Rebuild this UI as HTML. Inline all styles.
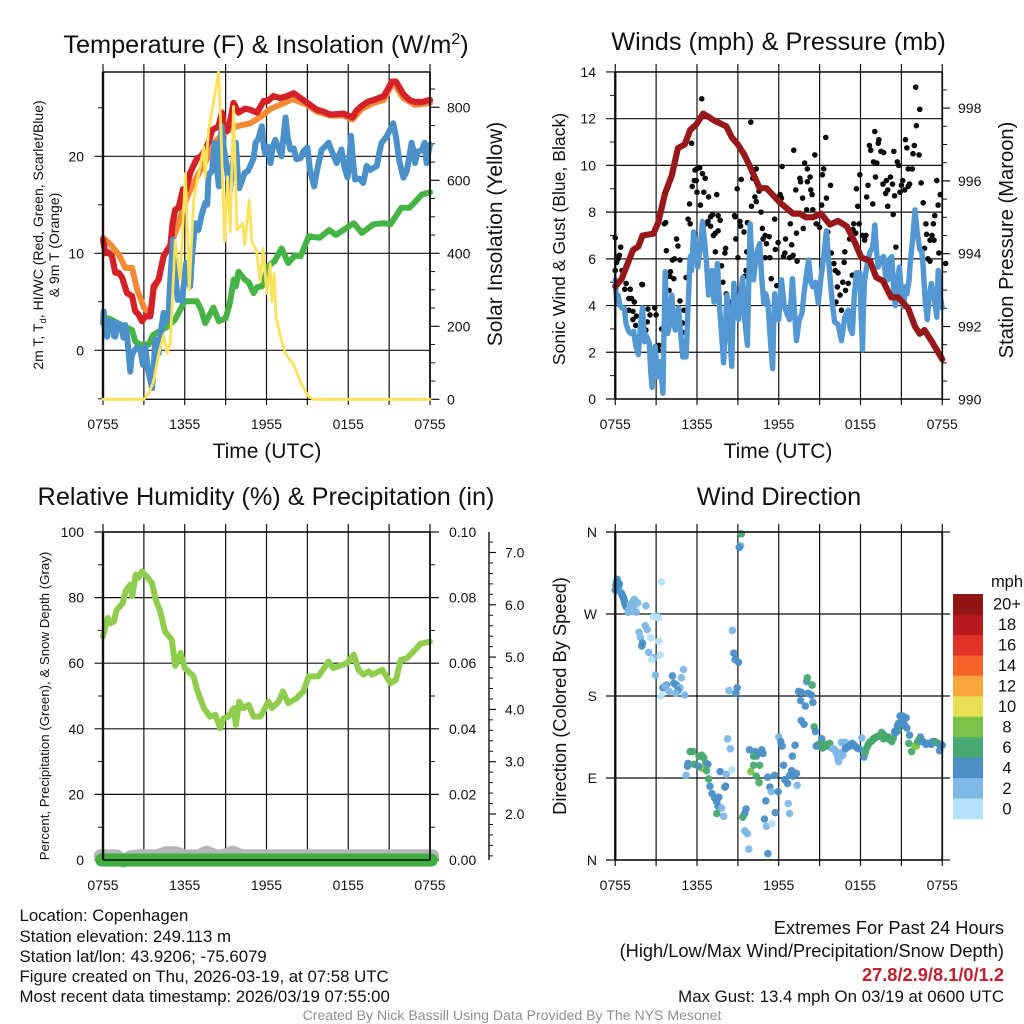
<!DOCTYPE html>
<html lang="en">
<head>
<meta charset="utf-8">
<title>Mesonet station meteogram</title>
<style>
html,body{margin:0;padding:0;background:#fff;}
svg{display:block;font-family:"Liberation Sans",sans-serif;}
text{fill:#111;}
</style>
</head>
<body>
<svg id="chart" xmlns="http://www.w3.org/2000/svg" width="1024" height="1024" viewBox="0 0 1024 1024">
<rect x="0" y="0" width="1024" height="1024" fill="#fff"/>
<g id="layers"></g>

<text x="266" y="53" font-size="25.3" text-anchor="middle">Temperature (F) &amp; Insolation (W/m<tspan dy="-9" font-size="16">2</tspan><tspan dy="9">)</tspan></text>
<text x="778.5" y="50" font-size="25.3" text-anchor="middle">Winds (mph) &amp; Pressure (mb)</text>
<text x="266" y="505" font-size="25.3" text-anchor="middle">Relative Humidity (%) &amp; Precipitation (in)</text>
<text x="779" y="505" font-size="25.3" text-anchor="middle">Wind Direction</text>

<text x="267" y="458" font-size="21" text-anchor="middle">Time (UTC)</text>
<text x="778" y="458" font-size="21" text-anchor="middle">Time (UTC)</text>

<text transform="translate(43,235) rotate(-90)" font-size="14" text-anchor="middle">2m T, T<tspan dy="3" font-size="9.5">d</tspan><tspan dy="-3">, HI/WC (Red, Green, Scarlet/Blue)</tspan></text>
<text transform="translate(59,245) rotate(-90)" font-size="14" text-anchor="middle">&amp; 9m T (Orange)</text>
<text transform="translate(502,234) rotate(-90)" font-size="21" text-anchor="middle">Solar Insolation (Yellow)</text>
<text transform="translate(565,239) rotate(-90)" font-size="17.6" text-anchor="middle">Sonic Wind &amp; Gust (Blue, Black)</text>
<text transform="translate(1013,240) rotate(-90)" font-size="20.2" text-anchor="middle">Station Pressure (Maroon)</text>
<text transform="translate(49,706) rotate(-90)" font-size="13.25" text-anchor="middle">Percent, Precipitation (Green), &amp; Snow Depth (Gray)</text>
<text transform="translate(566,696) rotate(-90)" font-size="18.3" text-anchor="middle">Direction (Colored By Speed)</text>

<g font-size="16.8">
<text x="19.5" y="921">Location: Copenhagen</text>
<text x="19.5" y="942">Station elevation: 249.113 m</text>
<text x="19.5" y="962">Station lat/lon: 43.9206; -75.6079</text>
<text x="19.5" y="982">Figure created on Thu, 2026-03-19, at 07:58 UTC</text>
<text x="19.5" y="1002">Most recent data timestamp: 2026/03/19 07:55:00</text>
</g>
<g text-anchor="end">
<text x="1004" y="934" font-size="18.25">Extremes For Past 24 Hours</text>
<text x="1004" y="957" font-size="18.25">(High/Low/Max Wind/Precipitation/Snow Depth)</text>
<text x="1004" y="981" font-size="18.25" font-weight="bold" style="fill:#c4202f">27.8/2.9/8.1/0/1.2</text>
<text x="1004" y="1002" font-size="16.85">Max Gust: 13.4 mph On 03/19 at 0600 UTC</text>
</g>
<text x="512" y="1020" font-size="14.1" text-anchor="middle" style="fill:#8f8f8f">Created By Nick Bassill Using Data Provided By The NYS Mesonet</text>
<text x="1007" y="587" font-size="16.5" text-anchor="middle">mph</text>
</svg>

<script>
/* ---------- temperature panel data ---------- */
const redHours=[0,.17,.4,.66,.9,1.15,1.4,1.76,2.13,2.37,2.6,2.86,3.1,3.47,3.72,4.08,4.45,4.7,4.94,5.1,5.3,5.55,5.87,6.1,6.4,6.9,7.2,7.5,7.8,8,8.48,8.73,8.9,9.1,9.3,9.58,9.95,10.4,10.8,11.3,11.8,12.1,12.5,13,13.5,14,14.5,15,15.7,16.2,16.7,17.65,18.3,18.6,19,19.4,19.85,20.6,20.9,21.2,21.5,22.05,22.5,22.9,23.4,24];
const redTemp=[11.4,10,10.1,9.7,8,8,7.5,5.9,5.6,4,3.7,3,3.5,3.5,6.6,7.3,9.7,10.3,10.7,13,14.5,14.7,16.6,16.6,18.3,19.8,20,20.7,21.6,22.7,23.1,24.5,23,22.6,23.4,25.5,24.5,24.9,24.8,24.5,25.7,25.7,26.2,26,26.2,26.5,26,25.5,24.8,24.6,24.3,24.4,24,24.7,25.2,25.6,25.8,26.2,26.9,27.7,27.7,26.4,25.8,25.6,25.6,25.8];
const orangeHours=[0,.55,1.15,1.64,2.13,2.5,3,3.5,3.72,4.1,4.45,5.06,5.55,6,6.65,7.26,7.87,8.36,9.1,9.83,10.8,11.5,12.3,13,13.9,15,15.7,16.7,17.65,18.3,19,19.85,20.6,21.2,21.5,22.05,22.9,24];
const orangeTemp=[11.6,10.9,9.9,8.5,8.5,6.3,4.4,3.7,6.3,7.3,9.7,11.2,13.1,15.2,17.3,18.8,20.3,21.7,22.6,23.1,23.4,24,24.9,25.3,25.9,25.3,24.6,24.2,24.2,23.8,24.9,25.5,25.8,27.4,27.2,26,25.3,25.5];
const greenHours=[0,.4,1.5,2.13,2.37,2.74,3.35,3.7,4.3,4.8,5.3,6,6.9,7.2,7.5,7.8,8.1,8.5,9,9.3,9.6,9.75,9.95,10.4,10.7,11.05,11.3,11.66,12.15,12.6,13.1,13.6,14.1,14.5,15.1,15.9,16.6,17.1,18.4,19,19.85,20.6,21.1,21.9,22.5,23.4,24];
const greenTemp=[2.8,3.3,2.5,2.1,.9,.6,.6,1.6,2.1,2.5,3.2,5.05,5.05,4.2,2.8,3.6,4.4,3,3.3,4.8,7.3,6.6,8.1,7.3,7,5.9,6.5,6.6,8.7,9.2,10.5,9,9.8,9.7,11.75,11.6,12.4,11.9,13.1,12.1,13,13.1,13,14.7,14.7,16.05,16.3];
const blueHours=[0,.05,.15,.3,.4,.5,.66,.8,.9,1.05,1.15,1.3,1.5,1.64,1.8,2,2.1,2.25,2.5,2.74,2.93,3.1,3.3,3.6,3.75,3.84,4.08,4.25,4.45,4.6,4.8,4.95,5.13,5.3,5.48,5.65,5.8,5.95,6.1,6.25,6.4,6.55,6.77,7,7.25,7.5,7.65,7.75,8,8.2,8.35,8.5,8.6,8.7,8.85,9,9.15,9.3,9.5,9.75,9.9,10,10.2,10.4,10.65,10.9,11.05,11.2,11.4,11.66,11.8,11.9,12.1,12.3,12.45,12.65,12.85,13.1,13.25,13.4,13.55,13.75,14,14.2,14.5,14.7,15,15.2,15.5,15.7,16.05,16.3,16.55,16.8,17.15,17.3,17.5,17.7,17.95,18.1,18.2,18.35,18.5,18.8,19.1,19.35,19.6,20.1,20.3,20.45,20.8,21.3,21.5,21.75,22.05,22.3,22.65,22.8,22.9,23.1,23.4,23.6,23.75,23.9,24];
const blueTemp=[2.8,4,2.5,1.4,3,2.2,3,1.5,1.4,2.8,2.2,2.6,1.3,2.6,1,-2.2,-.6,-.1,.3,.1,-1.5,.4,-2,-3.9,-1,1.1,-.3,2,3.85,3,3.5,7.5,11.4,8,5.2,5.6,5.05,7,9,7.5,6.6,10,13.1,12.4,14,15.2,15,18.1,18.5,21.4,19,16.9,20,23.1,21,19.7,18,16.2,19,21.4,18,16.7,17.5,18.3,18.5,19.3,19.8,21.4,21.8,23.1,21,20.3,21,19.3,21,21.7,21,20,22,24,22,20.7,20.8,19.7,19.8,20.5,20.9,18.5,16.9,18.5,20.7,21,21.4,20.5,19.3,20,20.7,19,17.8,20,22.1,19.5,17.6,17.7,17.25,19,18.6,19,20.5,21.4,22,23.4,22,19.5,17.8,18.5,21.4,20.5,19.3,20.5,20.6,21.4,19.3,20.5,21.2];
const solarHours=[0,3,3.35,3.7,4.1,4.45,4.7,4.94,5.3,5.67,6.05,6.33,6.65,7.4,7.5,7.75,8.1,8.48,8.65,8.92,9.14,9.34,9.58,9.83,10.25,10.4,10.73,10.93,11.25,11.55,11.74,12.03,12.27,12.4,12.57,12.7,13,13.37,14,14.6,15.1,15.45,24];
const solarWatts=[0,0,16,48,126,176,126,153,436,327,619,300,546,692,610,738,811,897,747,432,610,459,802,464,482,423,546,432,409,322,414,290,372,267,345,226,176,126,94,39,7,0,0];
const tempTicks=[0,10,20];
const tempMinorTicks=[-5,5,15,25];
const solarTicks=[0,200,400,600,800];
const solarMinorTicks=[50,100,150,250,300,350,450,500,550,650,700,750,850];

/* ---------- winds panel data ---------- */
const windHours=[0,.1,.2,.35,.5,.66,.8,.98,1.15,1.35,1.5,1.7,1.85,2,2.15,2.3,2.5,2.6,2.7,2.82,2.93,3.1,3.3,3.5,3.58,3.67,3.75,3.84,4,4.15,4.28,4.4,4.52,4.65,4.8,4.96,5.2,5.35,5.5,5.6,5.75,5.9,6.05,6.2,6.4,6.55,6.7,6.85,7,7.1,7.25,7.38,7.5,7.65,7.8,7.95,8.08,8.2,8.38,8.55,8.62,8.7,8.88,9.05,9.2,9.35,9.5,9.7,9.8,9.9,10.02,10.15,10.35,10.6,10.75,10.9,11.05,11.2,11.4,11.55,11.62,11.7,11.85,12,12.1,12.2,12.4,12.6,12.8,12.9,13,13.15,13.3,13.5,13.7,13.85,14,14.2,14.35,14.5,14.7,14.9,15.1,15.3,15.5,15.65,15.8,15.95,16.1,16.35,16.6,16.85,17.1,17.25,17.4,17.55,17.7,17.95,18.05,18.15,18.22,18.3,18.5,18.7,18.9,19.05,19.18,19.3,19.5,19.7,19.85,20,20.15,20.3,20.42,20.55,20.7,20.85,21,21.15,21.3,21.4,21.55,21.65,21.85,22,22.15,22.35,22.5,22.6,22.75,22.9,23.05,23.2,23.4,23.6,23.65,23.7,23.85,24];
const windSpeed=[5.1,4.2,4.45,4,3.9,3.9,3.2,2.9,2.8,2.9,2.3,1.9,3.2,3.9,2.45,2.7,2.4,1.2,.5,1.8,2.25,.95,1.6,.25,3,5.45,3.8,2.8,3.2,4.45,3.4,2.95,3.4,3.9,2.8,1.8,1.8,4,6.1,5.5,7.15,6.5,5.65,6.3,7.6,6.8,5.8,4.45,5.2,5.5,4.15,4.6,5.8,4,2.8,1.55,3,4.45,3,1.4,3,4.95,4,3.4,4.5,5.2,3.4,2.3,5,7.5,6,5.1,6.2,6.65,5.2,4.1,4.5,4.1,2.4,1.3,3,4.5,3.4,3.4,4.3,5.1,4,3.65,3.4,4.2,5.15,3.8,2.5,3.4,3.65,4.5,5.2,5.95,5,4.8,5,4.1,5.2,6.1,7.2,6,4.95,4,3.3,3.2,2.5,3.5,3.8,3,2.8,4.5,5.4,5.4,3.5,2.1,4,5.1,5.8,6.3,6.5,7.45,6.3,5.65,6,6.1,5.2,5.1,6,6.1,4.8,4,5,5.65,4.6,3.95,4.8,4.5,5,5.8,7,8.1,7.2,6.4,6.3,5.65,4.2,3.4,4.4,4.95,4.4,3.5,4.5,5.5,4.4,3.9];
const pressureHours=[0,.46,.83,1.3,1.7,2,2.8,3.15,3.65,4.15,4.6,5.1,5.5,5.95,6.45,7.3,8.15,8.55,9,9.5,10,10.6,11.1,12.1,13.05,13.55,14,14.5,15.1,15.75,16.35,17,17.6,18.05,18.7,19.15,19.65,20.25,20.75,21.5,22,22.35,22.7,23.3,24];
const pressureMb=[993.1,993.3,993.65,994.1,994.2,994.5,994.55,994.85,995.65,996.15,996.9,997,997.4,997.55,997.85,997.65,997.5,997.2,997,996.7,996.3,995.8,995.8,995.4,995.1,995.1,995,995,995.1,994.8,994.9,994.75,994.3,993.9,993.8,993.35,993.25,992.8,992.8,992.5,992,991.8,991.9,991.55,991.1];
const gustHours=[0,.4,.3,.2,.1,0,.5,.8,.7,1.1,1,1.2,1.4,1,1.3,1.55,1.3,1.5,1.95,2,2.25,2.35,2.4,2.55,2.9,3,3.2,3.15,3.3,3.4,3.6,3.7,3.75,3.95,4.05,4,4.3,4.2,4.35,4.75,4.5,4.6,4.75,4.95,5.05,4.95,5.2,5.35,5.5,5.45,5.6,5.65,5.8,5.95,5.85,6,6.2,6.4,6.6,6,6.5,6.85,7.45,6.25,6.35,6.65,6.8,7,7.15,7,7.55,7.7,7.55,7.35,7.2,7.35,8.1,8.05,7.8,7.9,8.15,8.4,8.35,8.45,8.85,8.75,8.8,8.95,9.25,9,9.15,9.2,9.45,9.7,9.65,9.6,9.5,9.45,9.95,10.35,10.1,10.25,10.55,10.35,10,10.7,10.8,10.85,11,11.3,11.1,11.7,11.75,11.95,11,11.35,11.45,11.85,12.25,12.1,12.2,12.85,12.5,12.95,12.45,12.35,12.8,13.05,13.35,13.1,13.55,13.6,13.25,13.3,13.8,13.75,13.9,14.1,14.3,14.1,14.35,14.45,14.05,14.5,14.65,15.3,15.2,15.8,15.5,15.15,15.45,14.75,15,15.6,15.85,16.05,16.15,16.35,16.3,16.8,16.85,16.7,17.1,16.9,16.5,16.2,16.6,17.4,17.5,17.9,17.45,17.65,17.2,17.7,17.8,17.95,18.15,18.4,18.3,18.55,18.45,18.9,19.1,18.65,18.75,19.05,19.35,19.3,19.5,19.7,18.95,19.2,19.65,19.9,19.85,20,20.2,20.35,20,20.4,20.5,20.6,20.45,20.7,20.8,21,21.1,20.9,21.3,21.4,21.5,21.8,21.95,21.85,22.3,21.5,21.25,21.6,22.05,22.35,22.1,22.45,22.6,22.8,23.35,23.45,23.7,23.85,23.6,22.7,22.85,23.25,23.4,23.1,22.95,23.1,23.75,24.25];
const gustSpeed=[6.9,6.5,6.15,6,5.85,5.5,5.5,4.95,4.7,4.7,4.3,4.3,4.15,3.8,3.75,3.55,3.4,3.15,4.9,4.9,2.95,3.3,3.85,3.6,3.9,3.6,2.3,2.1,1.2,3,7.5,7.55,6.35,4.65,5.45,5.25,5.15,5.95,6,5.95,6.85,6.55,4.2,3.25,3.8,2.85,5.2,7.7,7.5,8.35,10.95,9.1,9.35,9.35,9.8,9.85,9.9,9.65,9.45,8.85,8.85,8.65,8.75,8.3,12.85,7.5,7.6,7.8,7.9,7.4,7.85,7.65,7.2,7.1,7,6.3,6.45,6.25,5.7,5,4.5,4.15,4,3.6,6.85,7.85,7.8,9,9.4,6.05,7.6,7.4,7.15,7.55,6.3,5.5,5.25,10.5,11.85,9.85,9.45,8.65,8.9,8.45,8.25,8,7.3,6.85,7,6.95,6.65,7.7,6.4,6.7,6.05,6.05,5.15,4.85,9.95,8.75,8.6,7.5,6.85,6.6,6.25,6.1,6.05,6.15,5.9,10.65,9.45,9.3,8.95,7.1,7.3,8.6,10.1,9.85,9.5,9.3,8.95,8.75,8.1,8.1,10.45,9.85,9.6,9.15,8.6,8.3,11.2,7.5,7.35,7.15,6.25,5.8,5.5,5.4,4.8,5.85,6.3,5,4.95,4.65,4.45,4.15,3.8,5.3,7.5,7.5,7.25,7.1,6.85,9,8.25,9.6,7,7,6.8,9.15,8.65,8.35,9.5,10.85,10.65,11.45,11.1,10.95,10.6,10.55,10.15,10.1,9.2,9.35,8.8,8.95,9.5,9.2,8.25,7.9,8.7,6.5,10.6,10.15,10,9.15,9.35,8.85,11.1,10.75,9.85,9.85,10.85,10.5,10.45,9.1,8.95,9.2,13.35,12.4,11.7,9.25,8.4,7.5,7.5,7.85,8.3,8.75,9.35,6.45,7.05,7,6.8,6.8,6,5.9,6.25,5.8];
const windTicks=[0,2,4,6,8,10,12,14];
const windMinorTicks=[1,3,5,7,9,11,13];
const pressureTicks=[990,992,994,996,998];
const pressureMinorTicks=[990.5,991,991.5,992.5,993,993.5,994.5,995,995.5,996.5,997,997.5,998.5];

/* ---------- humidity panel data ---------- */
const humidityHours=[0,.35,.55,.8,1,1.45,1.65,2,2.15,2.4,2.6,2.85,3.2,3.6,3.85,4.2,4.55,5.05,5.3,5.5,5.7,6,6.65,6.9,7.4,7.85,8.25,8.6,8.85,9.2,9.6,9.75,10,10.3,10.7,11.05,11.55,12.15,12.4,12.9,13.2,13.6,14.2,14.7,15.1,15.8,16.15,16.55,16.9,17.9,18.4,18.75,19.1,19.5,19.75,20.5,21.1,21.5,21.85,22.3,22.9,23.3,24];
const humidityPercent=[68.2,73.8,72.2,72.7,76.3,78.3,81.9,83.9,80.4,87,86,88,86.5,84.4,79.6,75.8,69.7,67.1,59.2,61,63.1,58.5,56,51.9,46.3,43.7,44.3,40.2,43.2,43.7,46.3,41.2,48.3,46.3,47.3,43.7,43.7,48.3,46.3,48.3,51.4,47.8,49.3,51.4,56,56,58,60.5,58.5,60,62.6,58,56.5,57.5,56.5,58,53.9,54.9,61,61.5,64.1,65.9,66.6];
const snowHours=[-.2,1,1.5,2,2.6,4,4.6,5.3,6,7,7.6,8.3,8.8,9.5,10.2,24.2];
const snowDepth=[1.2,1.2,1.1,1.18,1.2,1.2,1.26,1.26,1.2,1.2,1.27,1.2,1.2,1.27,1.2,1.2];
const precipHours=[-.1,24.1];
const precipInches=[0,0];
const humidityTicks=[0,20,40,60,80,100];
const humidityMinorTicks=[10,30,50,70,90];
const precipTicks=[0,0.02,0.04,0.06,0.08,0.1];
const precipMinorTicks=[0.01,0.03,0.05,0.07,0.09];
const snowTicks=[2,3,4,5,6,7];
const snowMinorTicks=[1.2,1.4,1.6,1.8,2.2,2.4,2.6,2.8,3.2,3.4,3.6,3.8,4.2,4.4,4.6,4.8,5.2,5.4,5.6,5.8,6.2,6.4,6.6,6.8,7.2];

/* ---------- wind direction panel data ---------- */
const dirHours=[0,.05,.15,.2,.3,.45,.6,.7,.8,.95,1.2,1.3,1.5,1.65,1.55,2.25,1.3,3.05,2.8,3.15,3.4,2.2,2.35,1.75,1.85,2,1.95,2.6,3.2,2.45,2.85,2.65,3.3,2.95,4.2,5,4.85,4.3,3.75,3.5,3.65,4.5,4.75,4.6,3.95,4.45,5.1,3.35,5.2,5.3,5.35,5.5,5.7,5.8,6.15,6.35,6.5,6.65,6.8,6.35,6.7,6.1,6.85,6.95,7.1,7.3,7.6,7.45,7.55,7.8,7.45,7.95,8.05,8.1,7.7,8.15,8.55,8.45,8.25,9.25,9.2,9.1,8.6,8.7,8.8,9.05,8.95,8.35,8.85,9.85,10.25,10.35,10.75,10.85,10.5,10.15,10.15,10.6,9.95,10.35,10.55,9.6,9.5,9.35,9.5,9.7,9.8,11.2,11.7,11.35,11.45,11.95,11.05,11.75,10.95,11.1,11.5,11.2,12,12.15,12.25,13.2,13,12.35,12.95,12.8,13.3,13.05,12.45,12.65,13.35,12.7,12.8,13.45,13.65,14.15,14.4,13.6,13.95,14.5,14.05,14.1,14.45,13.65,13.85,14.6,14.7,14.75,14.95,15.15,15.2,15.5,15.75,15.85,16.1,16.3,16.4,16.7,16.6,16.9,16.9,17.2,17.4,17.75,18.1,18.25,18.45,18.75,19.05,19.4,19.55,19.8,20.15,20.4,20.5,20.75,20.9,21,21.35,21.25,21.6,21.55,21.75,22,22.1,22.4,22.6,22.95,23.3,23.7,23.8,24,14.85,15.05,15.3,15.4,15.6,16,16.2,16.35,16.5,16.55,16.75,16.9,17.05,17.3,17.5,17.6,17.9,18.35,18.55,18.65,18.85,18.95,19.2,19.3,19.5,19.65,19.7,19.95,20.05,20.3,20.6,20.7,20.8,21.1,21.2,21.4,22.2,22.3,22.5,22.8,23.1,23.2,23.45,23.55,23.85,.05,.1,.25,.5,.55,.65,.75,1.1,1.4,1.45,1,1.25];
const dirDegrees=[296,302,308,304,303,293,288,282,278,272,278,284,284,282,272,279,275,268,267,266,305,257,253,250,244,238,235,244,240,228,222,220,225,203,202,209,200,194,192,189,191,192,189,186,185,183,181,180,93,103,106,119,119,105,114,115,112,106,105,101,98,103,89,81,73,68,69,64,59,57,51,48,80,81,97,94,99,122,133,358,345,343,252,227,220,217,189,186,183,121,119,114,121,117,117,114,104,104,97,92,85,56,51,47,32,29,12,91,93,80,75,75,65,52,45,37,40,7,135,130,125,126,114,104,98,93,95,92,88,84,82,62,51,185,184,183,181,175,169,173,196,200,192,153,149,146,141,125,125,133,123,125,128,123,121,115,108,115,129,129,124,125,128,123,134,113,123,130,134,136,140,136,132,134,141,142,158,150,156,147,137,128,119,125,125,135,130,128,130,128,120,126,126,128,124,127,126,122,118,111,113,118,129,122,124,127,126,125,122,118,126,129,131,133,135,136,137,138,133,134,135,130,140,147,150,158,149,145,130,132,130,127,128,127,130,129,126,297,305,300,291,289,285,280,280,286,280,275,273];
const dirSpeed=[5,5,5,5,5,5,5,5,5,3,3,3,3,3,3,3,3,3,1,1,1,3,3,3,3,5,5,1,1,3,3,1,1,3,5,3,3,5,5,5,3,5,3,5,3,3,3,1,3,5,5,7,7,7,7,7,7,7,5,9,7,5,7,5,5,5,5,5,5,3,7,3,5,5,5,3,1,3,3,7,3,5,3,5,5,5,5,3,5,5,5,5,5,5,5,7,7,7,9,7,7,5,5,7,3,3,3,5,5,5,3,5,5,5,5,3,1,5,3,5,5,5,5,5,5,5,5,5,5,5,3,3,3,5,5,5,5,5,5,5,5,7,7,5,5,7,5,5,5,5,7,7,7,3,3,3,3,3,3,3,5,5,5,5,3,5,7,7,7,7,7,7,7,7,5,7,5,5,5,5,5,7,7,9,9,5,7,5,5,7,5,5,5,7,7,7,7,3,3,3,3,3,3,5,5,5,5,5,5,7,7,7,7,7,7,7,7,7,7,7,7,7,5,5,5,5,5,5,7,7,5,5,5,5,5,7,5,5,5,5,5,5,5,5,3,3,3,3,3];
const speedColorBins=[0,2,4,6,8,10,12,14,16,18,20];
const speedColors=['#b5e1fa','#7db8e6','#4a8fc7','#48a870','#7bc24b','#e8e053','#faa63f','#f56227','#e03226','#b8191f','#8f1516'];
const speedLabels=['0','2','4','6','8','10','12','14','16','18','20+'];
const compassDegrees=[0,90,180,270,360];
const compassLabels=['N','E','S','W','N'];

/* ---------- shared axis data ---------- */
const gridHours=[0,3,6,9,12,15,18,21,24];
const timeLabelHours=[0,6,12,18,24];
const timeLabels=['0755','1355','1955','0155','0755'];

/* ---------- axis functions ---------- */
const HOUR_PX=13.625;
const leftX=t=>103+t*HOUR_PX;
const rightX=t=>615.25+t*HOUR_PX;
const tempY=v=>350.3-9.7*v;
const solarY=v=>399.3-0.365*v;
const windY=v=>399-23.36*v;
const pressureY=v=>399.3-36.4*(v-990);
const humidityY=v=>860-3.28*v;
const precipY=v=>860-3280*v;
const snowY=v=>814-52.3*(v-2);
const dirY=v=>860-0.9111*v;

const NS='http://www.w3.org/2000/svg';
const root=document.getElementById('layers');
function mk(tag,attrs,parent){
  const el=document.createElementNS(NS,tag);
  for(const k in attrs){el.setAttribute(k,attrs[k]);}
  parent.appendChild(el);
  return el;
}
function pts(hours,vals,xf,yf){
  return hours.map((h,i)=>xf(h).toFixed(2)+','+yf(vals[i]).toFixed(2)).join(' ');
}
function seg(parent,x1,y1,x2,y2,w,col){
  const el=mk('line',{x1:x1,y1:y1,x2:x2,y2:y2,stroke:col||'#111','stroke-width':w},parent);
  
  
  return el;
}
function label(parent,x,y,str,anchor,size){
  const el=mk('text',{x:x,y:y,'font-size':size||14,'text-anchor':anchor},parent);
  el.textContent=str;
  
  
  return el;
}
function trace(parent,hours,vals,xf,yf,col,w){
  const el=mk('polyline',{points:pts(hours,vals,xf,yf),fill:'none',stroke:col,'stroke-width':w,'stroke-linejoin':'round','stroke-linecap':'round'},parent);
  return el;
}
function group(parent,name){
  const el=mk('g',{},parent);
  
  
  return el;
}
function timeGrid(parent,xf,top,bottom){
  gridHours.forEach(h=>seg(parent,xf(h),top-8,xf(h),bottom+6,1.2));
  timeLabelHours.forEach((h,i)=>label(parent,xf(h),bottom+30,timeLabels[i],'middle'));
}
function frame(parent,x0,x1,top,bottom){
  seg(parent,x0,top,x1,top,1.4);
  seg(parent,x0,bottom,x1,bottom,1.4);
  seg(parent,x0,top,x0,bottom,2.4);
  seg(parent,x1,top,x1,bottom,1.8);
}

/* ---------- panel 1: temperature ---------- */
const p1=group(root,'temperature-panel');
timeGrid(p1,leftX,72,399);
tempTicks.forEach(v=>{seg(p1,94.5,tempY(v),430,tempY(v),1.2);label(p1,84,tempY(v)+5,String(v),'end');});
tempMinorTicks.forEach(v=>seg(p1,98,tempY(v),103,tempY(v),1));
solarTicks.forEach(v=>{seg(p1,430,solarY(v),439.5,solarY(v),1.2);label(p1,447,solarY(v)+5,String(v),'start');});
solarMinorTicks.forEach(v=>seg(p1,430,solarY(v),435,solarY(v),1));
const orangeLine=trace(p1,orangeHours,orangeTemp,leftX,tempY,'#f58a35',6);


const redLine=trace(p1,redHours,redTemp,leftX,tempY,'#d42027',6.2);


const greenLine=trace(p1,greenHours,greenTemp,leftX,tempY,'#46b345',6);


const blueLine=trace(p1,blueHours,blueTemp,leftX,tempY,'#4a90c9',6);


const solarLine=trace(p1,solarHours,solarWatts,leftX,solarY,'#fce15a',2.8);


frame(p1,103,430,72,399.3);
solarLine.parentNode.appendChild(solarLine);

/* ---------- panel 2: winds ---------- */
const p2=group(root,'winds-panel');
timeGrid(p2,rightX,72,399);
windTicks.forEach(v=>{seg(p2,606,windY(v),942.25,windY(v),1.2);label(p2,596,windY(v)+5,String(v),'end');});
windMinorTicks.forEach(v=>seg(p2,610,windY(v),615,windY(v),1));
pressureTicks.forEach(v=>{seg(p2,942.25,pressureY(v),950,pressureY(v),1.2);label(p2,958,pressureY(v)+5,String(v),'start');});
pressureMinorTicks.forEach(v=>seg(p2,942.25,pressureY(v),947,pressureY(v),1));
const gustGroup=group(p2,'gust-points');
gustHours.forEach((h,i)=>{
  const dot=mk('circle',{cx:rightX(h).toFixed(2),cy:windY(gustSpeed[i]).toFixed(2),r:2.8,fill:'#0c0c0c'},gustGroup);
  
  
});
const windLine=trace(p2,windHours,windSpeed,rightX,windY,'#5398d2',5.4);


const pressureLine=trace(p2,pressureHours,pressureMb,rightX,pressureY,'#96181b',6.2);


frame(p2,615.25,942.25,72,399);

/* ---------- panel 3: humidity ---------- */
const p3=group(root,'humidity-panel');
timeGrid(p3,leftX,532,860);
humidityTicks.forEach(v=>{seg(p3,94.5,humidityY(v),430,humidityY(v),1.2);label(p3,84,humidityY(v)+5,String(v),'end');});
humidityMinorTicks.forEach(v=>seg(p3,98,humidityY(v),103,humidityY(v),1));
precipTicks.forEach(v=>{seg(p3,430,precipY(v),439,precipY(v),1.2);label(p3,449,precipY(v)+5,v.toFixed(2),'start');});
precipMinorTicks.forEach(v=>seg(p3,430,precipY(v),435,precipY(v),1));
seg(p3,489,532,489,860,1.4);
snowTicks.forEach(v=>{seg(p3,489,snowY(v),496,snowY(v),1.2);label(p3,505,snowY(v)+5,v.toFixed(1),'start');});
snowMinorTicks.forEach(v=>seg(p3,489,snowY(v),493,snowY(v),1));
const snowLine=trace(p3,snowHours,snowDepth,leftX,snowY,'#b5b5b5',13);


const precipLine=trace(p3,precipHours,precipInches,leftX,precipY,'#3fae3f',13);


const humidityLine=trace(p3,humidityHours,humidityPercent,leftX,humidityY,'#90cd4f',6);


frame(p3,103,430,532,860);

/* ---------- panel 4: wind direction ---------- */
const p4=group(root,'direction-panel');
timeGrid(p4,rightX,532,860);
compassDegrees.forEach((v,i)=>{seg(p4,606,dirY(v),950,dirY(v),1.2);label(p4,597,dirY(v)+5,compassLabels[i],'end');});
const dirGroup=group(p4,'direction-points');
dirHours.forEach((h,i)=>{
  let bin=0;
  speedColorBins.forEach((b,k)=>{if(dirSpeed[i]>=b){bin=k;}});
  const dot=mk('circle',{cx:rightX(h).toFixed(2),cy:dirY(dirDegrees[i]).toFixed(2),r:3.8,fill:speedColors[bin],opacity:.95},dirGroup);
  
  
});
frame(p4,615.25,942.25,532,860);

/* ---------- speed legend ---------- */
const legend=group(root,'speed-legend');
const cellHeight=225/speedColors.length;
speedColors.slice().reverse().forEach((c,i)=>{
  const cell=mk('rect',{x:953,y:594+i*cellHeight,width:30,height:cellHeight+.3,fill:c},legend);
  
  
  label(legend,1007,594+i*cellHeight+cellHeight/2+5.5,speedLabels[speedLabels.length-1-i],'middle',16.5);
});
</script>
</body>
</html>
